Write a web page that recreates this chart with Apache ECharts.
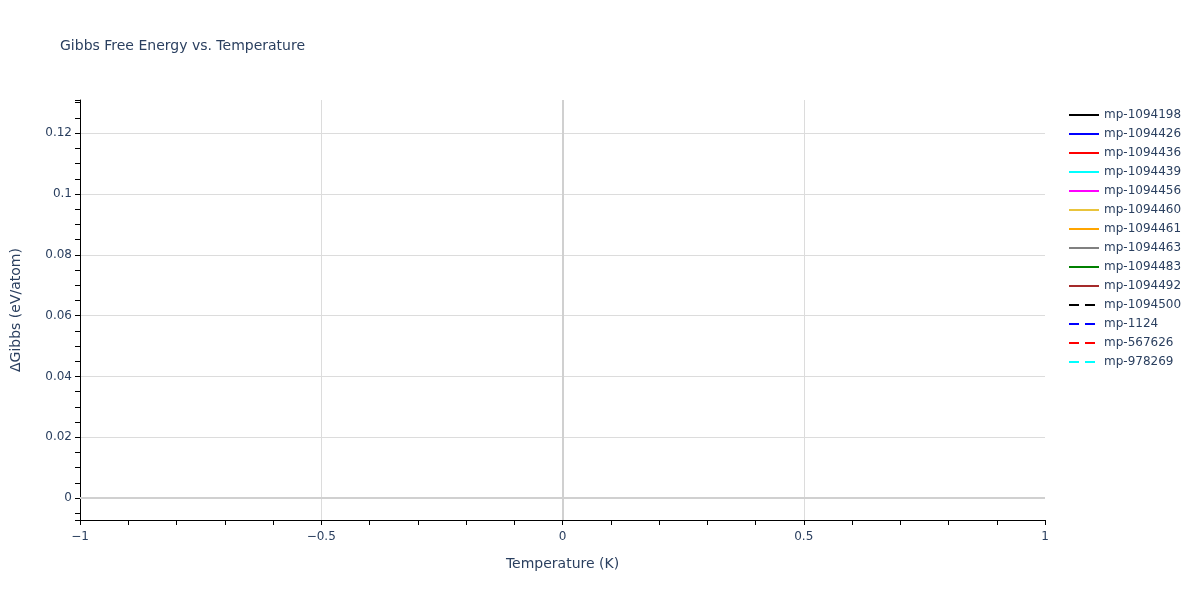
<!DOCTYPE html>
<html>
<head>
<meta charset="utf-8">
<script src="https://cdn.jsdelivr.net/npm/echarts@6/dist/echarts.min.js"></script>
<style>html,body{margin:0;padding:0;background:#fff}#c{width:1200px;height:600px}</style>
</head>
<body>
<div id="c"></div>
<script>
var seriesNames = ['mp-1094198','mp-1094426','mp-1094436','mp-1094439','mp-1094456','mp-1094460','mp-1094461','mp-1094463','mp-1094483','mp-1094492','mp-1094500','mp-1124','mp-567626','mp-978269'];
var seriesColors = ['#000000','#0000ff','#ff0000','#00ffff','#ff00ff','#e9c43c','#ffa500','#808080','#008000','#a52a2a','#000000','#0000ff','#ff0000','#00ffff'];
var seriesDashed = [false,false,false,false,false,false,false,false,false,false,true,true,true,true];
var temperatures = [0];
var gibbsValues = [[0],[0],[0],[0],[0],[0],[0],[0],[0],[0],[0],[0],[0],[0]];
var xTicks = [-1, -0.5, 0, 0.5, 1];

var txt = '#2a3f5f';
var font = 'DejaVu Sans';
var series = seriesNames.map(function(n, i){
  var s = {
    name: n, type: 'line', showSymbol: false, symbol: 'none',
    data: temperatures.map(function(t, j){ return [t, gibbsValues[i][j]]; }),
    lineStyle: {color: seriesColors[i], width: 2, type: seriesDashed[i] ? [10,6] : 'solid'},
    itemStyle: {color: seriesColors[i]}
  };
  if (i === 0) {
    s.markLine = {
      silent: true, symbol: 'none', label: {show: false},
      lineStyle: {color: '#d0d0d0', width: 2, type: 'solid'},
      data: [{xAxis: 0}, {yAxis: 0}]
    };
  }
  return s;
});

var chart = echarts.init(document.getElementById('c'));
chart.setOption({
  animation: false,
  textStyle: {fontFamily: font},
  title: {text: 'Gibbs Free Energy vs. Temperature', left: 55, top: 34,
    textStyle: {fontFamily: font, fontSize: 14, fontWeight: 'normal', color: txt}},
  legend: {
    orient: 'vertical', left: 1063, top: 104, itemWidth: 30, itemHeight: 14, itemGap: 7,
    itemStyle: {opacity: 0},
    textStyle: {fontFamily: font, fontSize: 12, color: txt},
    data: seriesNames
  },
  grid: {left: 80, right: 155, top: 100, bottom: 80},
  xAxis: {
    type: 'value', min: xTicks[0], max: xTicks[xTicks.length-1], interval: 0.5,
    name: 'Temperature (K)', nameLocation: 'middle', nameGap: 37,
    nameTextStyle: {fontFamily: font, fontSize: 14, color: txt},
    axisLine: {onZero: false, lineStyle: {color: '#000', width: 1}},
    axisTick: {show: true, length: 5, lineStyle: {color: '#000'}},
    minorTick: {show: true, splitNumber: 5, length: 5, lineStyle: {color: '#000'}},
    axisLabel: {fontFamily: font, fontSize: 12, color: txt, margin: 11,
      formatter: function(v){ return v < 0 ? '\u2212' + Math.abs(v) : String(v); }},
    splitLine: {show: true, showMinLine: false, showMaxLine: false, lineStyle: {color: '#dcdcdc', width: 1}}
  },
  yAxis: {
    type: 'value', min: -0.00723, max: 0.1309, splitNumber: 7,
    name: '\u0394Gibbs (eV/atom)', nameLocation: 'middle', nameGap: 57, nameRotate: 90,
    nameTextStyle: {fontFamily: font, fontSize: 14, color: txt},
    axisLine: {show: true, onZero: false, lineStyle: {color: '#000', width: 1}},
    axisTick: {show: true, length: 5, lineStyle: {color: '#000'}},
    minorTick: {show: true, splitNumber: 4, length: 5, lineStyle: {color: '#000'}},
    axisLabel: {fontFamily: font, fontSize: 12, color: txt, margin: 8, showMinLabel: false, showMaxLabel: false},
    splitLine: {show: true, showMinLine: false, showMaxLine: false, lineStyle: {color: '#dcdcdc', width: 1}}
  },
  series: series
});
</script>
</body>
</html>
